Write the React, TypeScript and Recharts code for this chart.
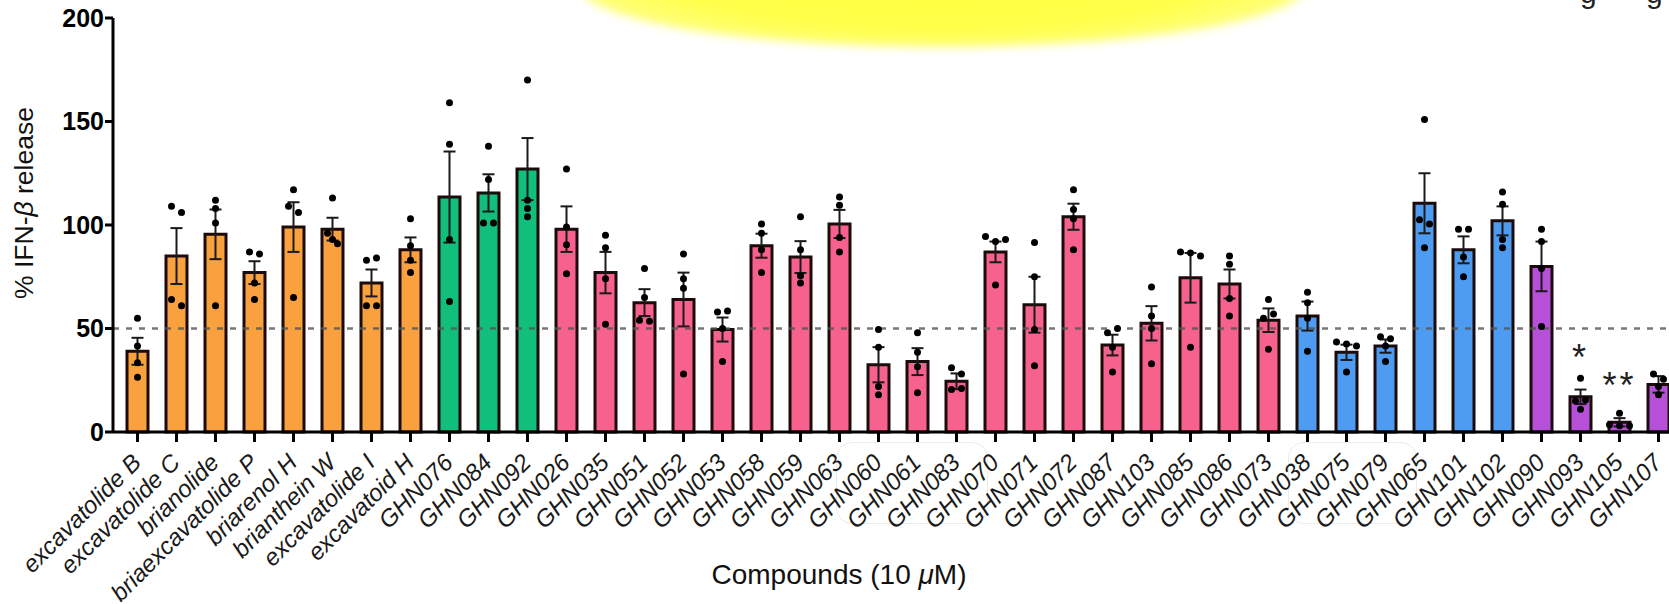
import React from 'react';
import {
  ComposedChart,
  Bar,
  Cell,
  ErrorBar,
  Scatter,
  XAxis,
  YAxis,
  ReferenceLine,
} from 'recharts';

const FONT = '"Liberation Sans", Arial, Helvetica, sans-serif';

const compounds = [
  'excavatolide B', 'excavatolide C', 'brianolide', 'briaexcavatolide P', 'briarenol H',
  'brianthein W', 'excavatolide I', 'excavatoid H',
  'GHN076', 'GHN084', 'GHN092',
  'GHN026', 'GHN035', 'GHN051', 'GHN052', 'GHN053', 'GHN058', 'GHN059', 'GHN063',
  'GHN060', 'GHN061', 'GHN083', 'GHN070', 'GHN071', 'GHN072', 'GHN087', 'GHN103',
  'GHN085', 'GHN086', 'GHN073',
  'GHN038', 'GHN075', 'GHN079', 'GHN065', 'GHN101', 'GHN102',
  'GHN090', 'GHN093', 'GHN105', 'GHN107',
];

// which colour family each compound belongs to
const groups = [
  'orange', 'orange', 'orange', 'orange', 'orange', 'orange', 'orange', 'orange',
  'green', 'green', 'green',
  'pink', 'pink', 'pink', 'pink', 'pink', 'pink', 'pink', 'pink', 'pink', 'pink',
  'pink', 'pink', 'pink', 'pink', 'pink', 'pink', 'pink', 'pink', 'pink',
  'blue', 'blue', 'blue', 'blue', 'blue', 'blue',
  'purple', 'purple', 'purple', 'purple',
];

const means = [
  39, 85, 95.5, 77, 99, 98, 72, 88,
  113.5, 115.5, 127,
  98, 77, 62.5, 64, 49.5, 90, 84.5, 100.5, 32.5, 34, 24.5, 87, 61.5, 104, 42, 52.5, 74.5, 71.5, 54,
  56, 38.5, 41.5, 110.5, 88, 102,
  80, 17, 4.7, 23,
];

const sems = [
  6.5, 13.5, 12, 5.5, 12, 5.5, 6.5, 6,
  22, 9, 15,
  11, 10, 6.5, 13, 5.8, 5.8, 7.7, 6.8, 8.5, 6.5, 3.8, 5, 13.5, 6.3, 5, 8.3, 12, 7, 5.7,
  7, 3.7, 3.2, 14.5, 6.5, 7,
  12, 3.5, 2, 4,
];

// individual replicates (n = 4)
const rep1 = [
  55, 109, 112, 87, 117, 113, 83, 103,
  159, 138, 170,
  127, 95, 79, 86, 58, 100.5, 104, 113.5, 49.5, 48, 31, 94.5, 91.5, 117, 48, 70, 87, 85, 64,
  67.5, 43.5, 46, 151, 98, 116,
  98, 26, 9, 28,
];
const rep2 = [
  41.5, 106, 108, 86, 109, 96, 84, 90,
  139, 122, 112,
  99, 89, 65, 74, 58.5, 96, 88, 109.5, 41, 38.5, 28, 92, 75, 107.5, 50, 56, 86.5, 81, 55,
  62.5, 42.5, 45, 102.5, 98, 110,
  92, 15, 3.5, 25.5,
];
const rep3 = [
  33.5, 64, 101, 72, 106, 93, 61, 83,
  93, 101, 108,
  90.5, 74, 54, 69.5, 50, 88, 75.5, 94, 22, 31.5, 20.5, 93, 49.5, 103, 41, 50, 85, 64.5, 57,
  55, 41.5, 41.5, 100.5, 84.5, 93,
  79, 15.5, 3, 22,
];
const rep4 = [
  26.5, 61, 61, 64, 65, 91, 61, 77,
  63, 101, 104,
  76.5, 52, 53.5, 28, 34, 77, 72, 87, 18, 19, 21, 71, 32, 88, 29, 33, 41, 56, 40,
  39, 29, 34, 89, 75, 89,
  51, 11, 3, 18,
];

const sigMarks = [
  '', '', '', '', '', '', '', '',
  '', '', '',
  '', '', '', '', '', '', '', '', '', '', '', '', '', '', '', '', '', '', '',
  '', '', '', '', '', '',
  '', '*', '**', '',
];

const yTicks = [0, 50, 100, 150, 200];

const GROUP_COLORS: Record<string, string> = {
  orange: '#F9A03F',
  green: '#12BE7B',
  pink: '#F6628D',
  blue: '#4E9CF1',
  purple: '#B750D8',
};

const data = compounds.map((name, i) => ({
  name,
  group: groups[i],
  mean: means[i],
  sem: sems[i],
  d1: rep1[i],
  d2: rep2[i],
  d3: rep3[i],
  d4: rep4[i],
  sig: sigMarks[i],
  sigY: sigMarks[i] ? means[i] + sems[i] : null,
}));

const DOT_KEYS = ['d1', 'd2', 'd3', 'd4'];

// replicate dot, nudged sideways when it would overlap a neighbour
const makeDot = (k: number) => (props: any) => {
  const { cx, cy, payload } = props;
  if (cx == null || cy == null) return <g />;
  const vals = DOT_KEYS.map((key) => payload[key] as number);
  const me = vals[k];
  const close = vals
    .map((v, j) => ({ v, j }))
    .filter((o) => Math.abs(o.v - me) < 3.2)
    .sort((a, b) => a.j - b.j);
  const pos = close.findIndex((o) => o.j === k);
  const off = (pos - (close.length - 1) / 2) * 10;
  return <circle cx={cx + off} cy={cy} r={3.5} fill="#000" />;
};

const SigMark = (props: any) => {
  const { cx, cy, payload } = props;
  if (cx == null || cy == null || !payload.sig) return <g />;
  return (
    <text x={cx} y={cy - 20} textAnchor="middle" fontSize={36} letterSpacing={3} fontFamily={FONT} fill="#222">
      {payload.sig}
    </text>
  );
};

const CompoundTick = ({ x, y, payload }: any) => {
  const tx = x + 5;
  const ty = y + 20;
  return (
    <text
      x={tx}
      y={ty}
      transform={`rotate(-45 ${tx} ${ty})`}
      textAnchor="end"
      fontSize={24}
      fontStyle="italic"
      fontFamily={FONT}
      fill="#1a1a1a"
    >
      {payload.value}
    </text>
  );
};

const YTitle = () => (
  <text transform="translate(33, 203) rotate(-90)" textAnchor="middle" fontSize={26.5} fontFamily={FONT} fill="#111">
    % IFN-<tspan fontStyle="italic">β</tspan> release
  </text>
);

const XTitle = () => (
  <text x={839} y={584} textAnchor="middle" fontSize={28} fontFamily={FONT} fill="#111">
    Compounds (10 <tspan fontStyle="italic">μ</tspan>M)
  </text>
);

const glyphStyle: React.CSSProperties = {
  position: 'absolute',
  top: -24,
  fontFamily: FONT,
  fontSize: 30,
  color: '#222',
};

// faint rounded boxes left over from the screen capture
const ghostBox: React.CSSProperties = {
  position: 'absolute',
  top: 442,
  height: 80,
  border: '1px solid #ececec',
  borderRadius: 16,
};

export default function App() {
  return (
    <div
      style={{
        position: 'fixed',
        left: 0,
        top: 0,
        width: 1669,
        height: 604,
        overflow: 'hidden',
        background: '#fff',
      }}
    >
      {/* yellow highlight smudge at the top of the scan */}
      <div
        style={{
          position: 'absolute',
          left: 580,
          top: -75,
          width: 725,
          height: 122,
          borderRadius: '50%',
          background: 'radial-gradient(ellipse at 50% 35%, #FFFF3A 0%, #FFFF4A 55%, #FFFF8A 80%, #FFFFD0 100%)',
          filter: 'blur(5px)',
        }}
      />
      {/* clipped descenders of a text line above the scan */}
      <div style={{ ...glyphStyle, left: 1580 }}>g</div>
      <div style={{ ...glyphStyle, left: 1646 }}>g</div>
      <div style={{ ...ghostBox, left: 836, width: 150 }} />
      <div style={{ ...ghostBox, left: 1288, width: 127 }} />
      <ComposedChart
        width={1680}
        height={604}
        data={data}
        margin={{ top: 18, right: 2, left: 0, bottom: 0 }}
      >
        <XAxis
          dataKey="name"
          interval={0}
          height={172}
          padding={{ left: 5, right: 0 }}
          axisLine={{ stroke: '#000', strokeWidth: 3 }}
          tickLine={{ stroke: '#000', strokeWidth: 3 }}
          tickSize={10}
          tick={<CompoundTick />}
          label={<XTitle />}
        />
        <YAxis
          domain={[0, 200]}
          ticks={yTicks}
          width={113}
          axisLine={{ stroke: '#000', strokeWidth: 3 }}
          tickLine={{ stroke: '#000', strokeWidth: 3 }}
          tickSize={8}
          tickMargin={1}
          tick={{ fontSize: 25, fontWeight: 700, fill: '#000', fontFamily: FONT }}
          label={<YTitle />}
        />
        <Bar dataKey="mean" barSize={21} stroke="#1c0b0b" strokeWidth={3} isAnimationActive={false}>
          {data.map((d) => (
            <Cell key={d.name} fill={GROUP_COLORS[d.group]} />
          ))}
          <ErrorBar dataKey="sem" width={6} strokeWidth={2} stroke="#1a1a1a" direction="y" isAnimationActive={false} />
        </Bar>
        <ReferenceLine y={50} stroke="#555" strokeOpacity={0.8} strokeWidth={2.5} strokeDasharray="6 7" />
        {DOT_KEYS.map((key, k) => (
          <Scatter key={key} dataKey={key} shape={makeDot(k)} isAnimationActive={false} />
        ))}
        <Scatter dataKey="sigY" shape={SigMark} isAnimationActive={false} />
      </ComposedChart>
    </div>
  );
}
